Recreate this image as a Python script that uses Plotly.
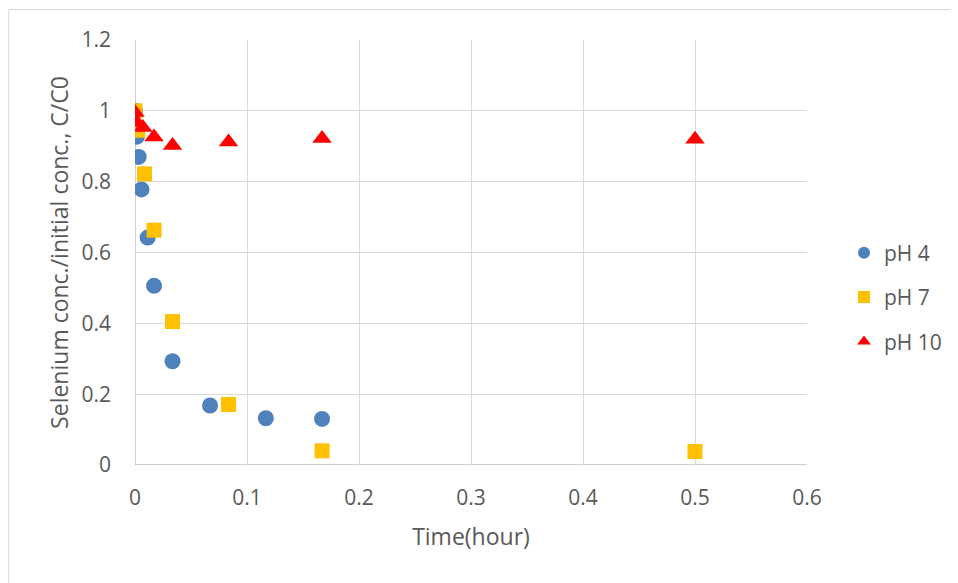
import plotly.graph_objects as go

# ---- data ----
ph4_time = [0, 0.0017, 0.0033, 0.0058, 0.0113, 0.0170, 0.0335, 0.0670, 0.1168, 0.1670]
ph4_conc = [1.0, 0.927, 0.870, 0.778, 0.642, 0.506, 0.293, 0.168, 0.132, 0.130]

ph7_time = [0, 0.0025, 0.0085, 0.0170, 0.0335, 0.0835, 0.1670, 0.5000]
ph7_conc = [1.0, 0.945, 0.822, 0.663, 0.405, 0.171, 0.040, 0.038]

ph10_time = [0, 0.0017, 0.0070, 0.0170, 0.0335, 0.0835, 0.1670, 0.5000]
ph10_conc = [0.995, 0.967, 0.953, 0.926, 0.902, 0.912, 0.922, 0.920]

x_ticks = [0, 0.1, 0.2, 0.3, 0.4, 0.5, 0.6]
x_tick_labels = ["0", "0.1", "0.2", "0.3", "0.4", "0.5", "0.6"]
y_ticks = [0, 0.2, 0.4, 0.6, 0.8, 1.0, 1.2]
y_tick_labels = ["0", "0.2", "0.4", "0.6", "0.8", "1", "1.2"]

FONT = "Open Sans, Noto Sans, sans-serif"
TXT = "#595959"

fig = go.Figure()
fig.add_trace(go.Scatter(x=ph4_time, y=ph4_conc, mode="markers", name="pH 4",
                         legendgroup="a",
                         marker=dict(symbol="circle", size=16, color="#4F81BD")))
fig.add_trace(go.Scatter(x=ph7_time, y=ph7_conc, mode="markers", name="pH 7",
                         legendgroup="b",
                         marker=dict(symbol="square", size=15, color="#FFC000")))
fig.add_trace(go.Scatter(x=ph10_time, y=ph10_conc, mode="markers", name="pH 10",
                         legendgroup="c",
                         marker=dict(symbol="triangle-up", size=17, color="#FF0000")))

# page has an 8px body margin; figure is sized/offset to compensate
L, R, T, B = 127, 150, 32, 118
W, H = 950, 575
pw, ph = W - L - R, H - T - B

fig.update_layout(
    width=W, height=H,
    margin=dict(l=L, r=R, t=T, b=B),
    paper_bgcolor="white", plot_bgcolor="white",
    font=dict(family=FONT, color=TXT, size=21),
    showlegend=True,
    legend=dict(x=1.0535, xanchor="left", xref="paper", y=0.395, yanchor="middle",
                font=dict(size=21, color=TXT), tracegroupgap=14,
                itemsizing="constant", bgcolor="rgba(0,0,0,0)"),
    xaxis=dict(range=[0, 0.6], tickvals=x_ticks, ticktext=x_tick_labels,
               showgrid=True, gridcolor="#D9D9D9", gridwidth=1,
               zeroline=False, showline=False,
               ticklabelstandoff=18,
               title=dict(text="Time(hour)", font=dict(size=23, color=TXT), standoff=18),
               tickfont=dict(size=21, color=TXT)),
    yaxis=dict(range=[0, 1.2], tickvals=y_ticks, ticktext=y_tick_labels,
               showgrid=True, gridcolor="#D9D9D9", gridwidth=1,
               zeroline=False, showline=False,
               ticklabelstandoff=23,
               title=dict(text="Selenium conc./initial conc., C/C0", font=dict(size=23, color=TXT), standoff=6),
               tickfont=dict(size=21, color=TXT)),
)

# axis lines at x=0 and y=0
fig.add_shape(type="line", xref="x", yref="paper", x0=0, x1=0, y0=0, y1=1,
              line=dict(color="#BFBFBF", width=1.5), layer="below")
fig.add_shape(type="line", xref="paper", yref="y", x0=0, x1=1, y0=0, y1=0,
              line=dict(color="#BFBFBF", width=1.5), layer="below")

# chart-area border (left and top edges visible)
fig.add_shape(type="rect", xref="paper", yref="paper",
              x0=(0.5 - L) / pw, x1=(W + 10 - L) / pw,
              y0=(H - B - (H + 10)) / ph, y1=(H - B - 1.5) / ph,
              line=dict(color="#D9D9D9", width=1), fillcolor="rgba(0,0,0,0)", layer="below")

fig.write_html("out.html")
